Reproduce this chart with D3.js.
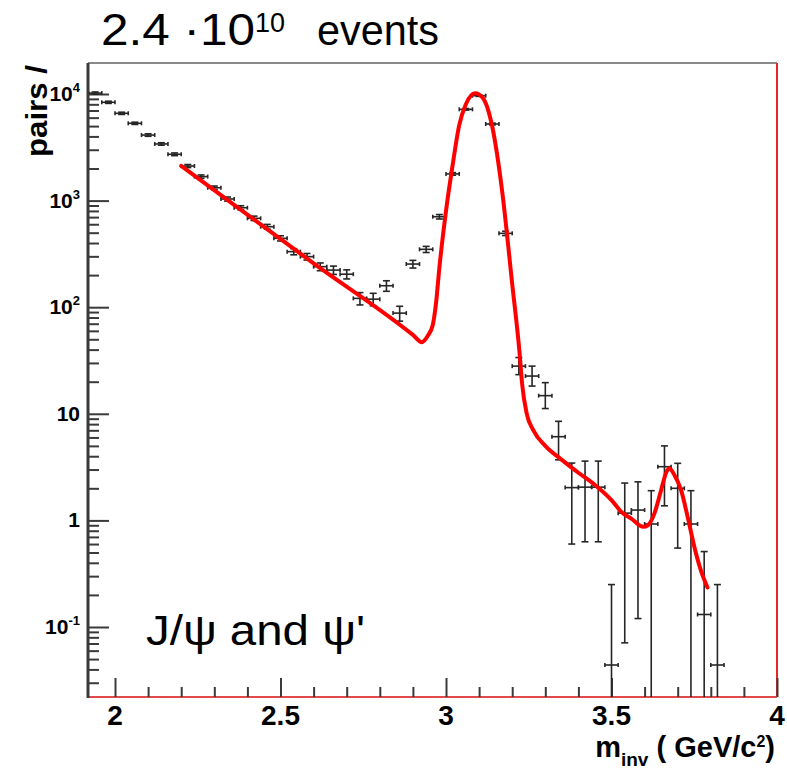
<!DOCTYPE html>
<html>
<head>
<meta charset="utf-8">
<script src="https://cdn.jsdelivr.net/npm/d3@7"></script>
<style>
body{margin:0;background:#fff;}
text{font-family:"Liberation Sans",Arial,Helvetica,sans-serif;fill:#000;}
</style>
</head>
<body>
<div></div>
<script>
// bin centres (GeV/c^2), counts and error bounds
let mass = [1.94,1.98,2.02,2.06,2.10,2.14,2.18,2.22,2.26,2.30,2.34,2.38,2.42,2.46,2.50,2.54,
            2.58,2.62,2.66,2.70,2.74,2.78,2.82,2.86,2.90,2.94,2.98,3.02,3.06,3.10,3.14,3.18,
            3.22,3.26,3.30,3.34,3.38,3.42,3.46,3.50,3.54,3.58,3.62,3.66,3.70,3.74,3.78,3.82];
let pairs = [10200,8360,6590,5310,4120,3400,2720,2110,1680,1320,1035,857,682,569,443,332,
             298,240,223,204,121,119,159,88,254,349,706,1780,7180,9640,5230,493,
             28,22.6,14.8,6.1,2.03,2.05,2.05,0.044,1.17,1.25,0.925,3.19,2.0,0.925,0.131,0.044];
let pairsUp = [10450,8560,6750,5440,4230,3490,2800,2180,1740,1370,1080,895,715,598,468,354,
               319,260,243,224,137,135,177,102,275,372,740,1830,7300,9780,5330,516,
               33.7,28,19.6,8.5,3.45,3.6,3.6,0.25,2.24,2.3,1.9,5.0,3.43,1.9,0.51,0.25];
let pairsDown = [9950,8160,6430,5180,4010,3310,2640,2040,1620,1270,990,820,650,540,418,310,
                 277,220,203,184,105,103,141,74,233,326,672,1730,7060,9500,5130,470,
                 23.3,18.2,11.2,3.7,0.60,0.63,0.63,0.001,0.071,0.12,0.001,1.37,0.55,0.001,0.001,0.001];
let binHalf = 0.02;

// fitted curve
let fitMass = [2.2,2.6,2.9,2.927,2.945,2.96,2.97,2.98,3.0,3.02,3.04,3.06,3.088,3.11,3.14,3.17,
               3.2,3.222,3.23,3.244,3.264,3.3,3.35,3.4,3.45,3.5,3.53,3.56,3.596,3.61,3.63,3.65,
               3.665,3.674,3.69,3.71,3.73,3.75,3.77,3.79];
let fitPairs = [2120,258,55,47,54,68,110,235,800,2150,5100,8000,10150,9300,4900,1200,
                165,38,19,10,7,5,3.7,2.8,2.15,1.55,1.2,1.04,0.87,0.9,1.17,1.93,
                2.8,3.08,2.67,1.93,1.08,0.57,0.34,0.235];

let xTickValues = [2,2.5,3,3.5,4];
let xTickLabels = ["2","2.5","3","3.5","4"];
let yTickValues = [0.1,1,10,100,1000,10000];
let yTickBase = ["10","1","10","10","10","10"];
let yTickExp = ["-1","","","2","3","4"];

let svgWidth = 787, svgHeight = 769;
let frame = {left:88, right:777, top:63, bottom:697};

let svg = d3.select("body div").append("svg")
    .attr("width", svgWidth)
    .attr("height", svgHeight);

let x = d3.scaleLinear().domain([1.9184, 4]).range([frame.left, frame.right]);
let y = d3.scaleLog().domain([Math.pow(10,-1.6567), Math.pow(10,4.2908)]).range([frame.bottom, frame.top]);

// frame lines
svg.append("line").attr("x1",frame.left).attr("x2",frame.right).attr("y1",frame.top).attr("y2",frame.top)
    .attr("stroke","#8a8a8a").attr("stroke-width",2);
svg.append("line").attr("x1",frame.right).attr("x2",frame.right).attr("y1",frame.top).attr("y2",frame.bottom)
    .attr("stroke","#e8262a").attr("stroke-width",2);
svg.append("line").attr("x1",frame.left).attr("x2",frame.right).attr("y1",frame.bottom).attr("y2",frame.bottom)
    .attr("stroke","#e24a4a").attr("stroke-width",2.2);
svg.append("line").attr("x1",frame.left).attr("x2",frame.left).attr("y1",frame.top).attr("y2",frame.bottom+1)
    .attr("stroke","#3a3a3a").attr("stroke-width",3);

// minor tick positions
let yMinor = [];
for (let d = -2; d <= 4; d++) {
    for (let m = 2; m <= 9; m++) {
        let v = m * Math.pow(10, d);
        if (v > y.domain()[0] && v < y.domain()[1]) yMinor.push(v);
    }
}
let xMinor = d3.range(20, 41).map(d => d / 10).filter(d => xTickValues.indexOf(d) < 0);

function styleAxis(g) {
    g.select(".domain").remove();
    g.selectAll(".tick line").attr("stroke","#3a3a3a").attr("stroke-width",2);
    g.selectAll(".tick text").remove();
}
svg.append("g").attr("transform","translate("+frame.left+",0)")
    .call(d3.axisRight(y).tickValues(yTickValues).tickSize(21)).call(styleAxis);
svg.append("g").attr("transform","translate("+frame.left+",0)")
    .call(d3.axisRight(y).tickValues(yMinor).tickSize(11)).call(styleAxis);
svg.append("g").attr("transform","translate(0,"+frame.bottom+")")
    .call(d3.axisTop(x).tickValues(xTickValues).tickSize(19)).call(styleAxis);
svg.append("g").attr("transform","translate(0,"+frame.bottom+")")
    .call(d3.axisTop(x).tickValues(xMinor).tickSize(10)).call(styleAxis);

// tick labels
yTickValues.forEach(function(v, i) {
    let t = svg.append("text").attr("x", 80).attr("y", y(v) + 7)
        .attr("text-anchor","end").attr("font-weight","bold").attr("font-size",21);
    t.append("tspan").text(yTickBase[i]);
    if (yTickExp[i]) t.append("tspan").attr("dy",-9).attr("font-size",13).text(yTickExp[i]);
});
xTickValues.forEach(function(v, i) {
    svg.append("text").attr("x", x(v)).attr("y", 725)
        .attr("text-anchor","middle").attr("font-weight","bold").attr("font-size",28)
        .text(xTickLabels[i]);
});

// axis titles
svg.append("text").attr("transform","translate(47,157) rotate(-90)")
    .attr("font-weight","bold").attr("font-size",30)
    .attr("textLength",92).attr("lengthAdjust","spacingAndGlyphs")
    .text("pairs /");
let xt = svg.append("text").attr("x",775).attr("y",757)
    .attr("text-anchor","end").attr("font-weight","bold").attr("font-size",29);
xt.append("tspan").text("m");
xt.append("tspan").attr("dy",9).attr("font-size",19).text("inv");
xt.append("tspan").attr("dy",-9).text(" ( GeV/c");
xt.append("tspan").attr("dy",-10).attr("font-size",16).text("2");
xt.append("tspan").attr("dy",10).text(")");

// title and annotation
svg.append("text").attr("x",101).attr("y",45).attr("font-size",44)
    .attr("textLength",154).attr("lengthAdjust","spacingAndGlyphs").text("2.4 \u00b710");
svg.append("text").attr("x",255).attr("y",32).attr("font-size",27)
    .attr("textLength",30).attr("lengthAdjust","spacingAndGlyphs").text("10");
svg.append("text").attr("x",317).attr("y",45).attr("font-size",43)
    .attr("textLength",122).attr("lengthAdjust","spacingAndGlyphs").text("events");
svg.append("text").attr("x",146).attr("y",645).attr("font-size",42)
    .attr("textLength",219).attr("lengthAdjust","spacingAndGlyphs").text("J/\u03c8 and \u03c8'");

// data with error bars
svg.append("clipPath").attr("id","plotclip").append("rect")
    .attr("x",frame.left+1).attr("y",frame.top).attr("width",frame.right-frame.left-1).attr("height",frame.bottom-frame.top);
let pts = svg.append("g").attr("clip-path","url(#plotclip)")
    .attr("stroke","#262626").attr("stroke-width",1.6).attr("fill","none");

mass.forEach(function(m, i) {
    let cx = x(m), cy = y(pairs[i]);
    let x0 = x(m - binHalf), x1 = x(m + binHalf);
    let yu = y(pairsUp[i]), yd = y(pairsDown[i]);
    pts.append("line").attr("x1",x0).attr("x2",x1).attr("y1",cy).attr("y2",cy);
    pts.append("line").attr("x1",x0).attr("x2",x0).attr("y1",cy-2).attr("y2",cy+2);
    pts.append("line").attr("x1",x1).attr("x2",x1).attr("y1",cy-2).attr("y2",cy+2);
    pts.append("line").attr("x1",cx).attr("x2",cx).attr("y1",yu).attr("y2",yd);
    pts.append("line").attr("x1",cx-3.5).attr("x2",cx+3.5).attr("y1",yu).attr("y2",yu);
    pts.append("line").attr("x1",cx-3.5).attr("x2",cx+3.5).attr("y1",yd).attr("y2",yd);
});

// fit
let fitLine = d3.line()
    .x(d => x(d[0]))
    .y(d => y(d[1]))
    .curve(d3.curveMonotoneX);
svg.append("path")
    .datum(fitMass.map((m, i) => [m, fitPairs[i]]))
    .attr("d", fitLine)
    .attr("fill","none")
    .attr("stroke","#ff0000")
    .attr("stroke-width",4)
    .attr("stroke-linejoin","round")
    .attr("stroke-linecap","round");
</script>
</body>
</html>
